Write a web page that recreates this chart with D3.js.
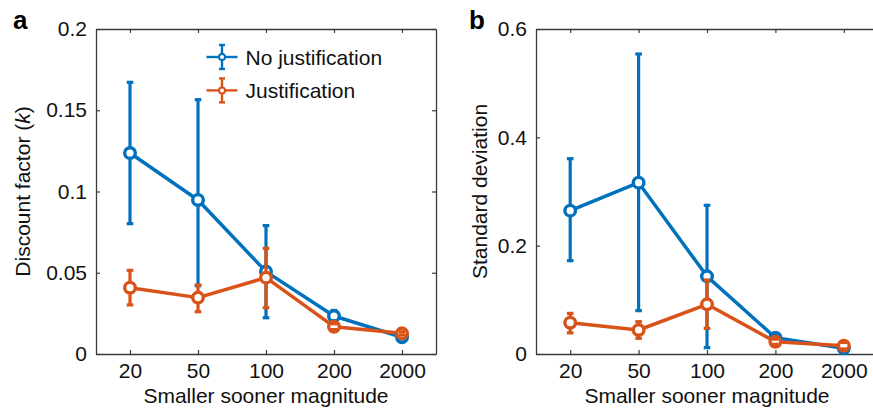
<!DOCTYPE html>
<meta charset="utf-8">
<script src="https://d3js.org/d3.v7.min.js"></script>
<style>
  body { margin: 0; background: #fff; }
  text { font-family: "Liberation Sans", Arial, Helvetica, sans-serif; }
</style>
<div id="chart"></div>
<script>

// x categories
const magnitudes = ["20", "50", "100", "200", "2000"]

// panel a: discount factor k
const kNoJust   = [0.1237, 0.0948, 0.0507, 0.0234, 0.0103]
const kNoJustLo = [0.0802, 0.0420, 0.0223, 0.0205, 0.0092]
const kNoJustHi = [0.1672, 0.1565, 0.0790, 0.0268, 0.0114]
const kJust     = [0.0408, 0.0347, 0.0470, 0.0168, 0.0127]
const kJustLo   = [0.0302, 0.0260, 0.0285, 0.0150, 0.0117]
const kJustHi   = [0.0515, 0.0425, 0.0650, 0.0186, 0.0137]

// panel b: standard deviation
const sdNoJust   = [0.2646, 0.3163, 0.1434, 0.0300, 0.0105]
const sdNoJustLo = [0.1723, 0.0800, 0.0117, 0.0250, 0.0070]
const sdNoJustHi = [0.3606, 0.5538, 0.2745, 0.0350, 0.0140]
const sdJust     = [0.0578, 0.0443, 0.0917, 0.0227, 0.0153]
const sdJustLo   = [0.0390, 0.0290, 0.0474, 0.0180, 0.0093]
const sdJustHi   = [0.0750, 0.0597, 0.1366, 0.0274, 0.0213]

const kTicks  = [0, 0.05, 0.1, 0.15, 0.2]
const sdTicks = [0, 0.2, 0.4, 0.6]

const seriesNames = ["No justification", "Justification"]
const colors = ["#0072BD", "#D95319"]

const W = 873, H = 411
const fontSize = 21
const axisColor = "#3a3a3a"

const svg = d3.select("#chart").append("svg")
    .attr("width", W)
    .attr("height", H)

function panel(opts) {
  const g = svg.append("g").attr("transform", "translate(" + opts.left + "," + opts.top + ")")
  const w = opts.width, h = opts.height

  const x = d3.scalePoint().domain(magnitudes).range([0, w]).padding(0.5)
  const y = d3.scaleLinear().domain(opts.yDomain).range([h, 0])

  // axes (ticks inward, box all round)
  const styleAxis = a => {
    a.selectAll("path.domain").attr("stroke", axisColor).attr("stroke-width", 1.3)
    a.selectAll(".tick line").attr("stroke", axisColor).attr("stroke-width", 1.2)
    a.selectAll("text").attr("fill", "#111").style("font-size", fontSize + "px")
  }
  g.append("g").attr("transform", "translate(0," + h + ")")
    .call(d3.axisBottom(x).tickSizeInner(-4).tickSizeOuter(0).tickPadding(9))
    .call(styleAxis)
  g.append("g")
    .call(d3.axisLeft(y).tickValues(opts.yTicks).tickFormat(d3.format("")).tickSizeInner(-4).tickSizeOuter(0).tickPadding(9))
    .call(styleAxis)
  g.append("g")
    .call(d3.axisTop(x).tickSizeInner(-4).tickSizeOuter(0).tickFormat(""))
    .call(styleAxis)
  g.append("g").attr("transform", "translate(" + w + ",0)")
    .call(d3.axisRight(y).tickValues(opts.yTicks).tickSizeInner(-4).tickSizeOuter(0).tickFormat(""))
    .call(styleAxis)

  opts.series.forEach((s, si) => {
    const c = colors[si]
    const pts = magnitudes.map((m, i) => ({m: m, v: s.mean[i], lo: s.lo[i], hi: s.hi[i]}))
    const sg = g.append("g")

    sg.append("path")
      .datum(pts)
      .attr("fill", "none")
      .attr("stroke", c)
      .attr("stroke-width", 3.5)
      .attr("stroke-linejoin", "round")
      .attr("d", d3.line().x(d => x(d.m)).y(d => y(d.v)))

    sg.selectAll("line.bar").data(pts).join("line")
      .attr("class", "bar")
      .attr("x1", d => x(d.m)).attr("x2", d => x(d.m))
      .attr("y1", d => y(d.lo)).attr("y2", d => y(d.hi))
      .attr("stroke", c).attr("stroke-width", 3.2)

    sg.selectAll("circle").data(pts).join("circle")
      .attr("cx", d => x(d.m)).attr("cy", d => y(d.v))
      .attr("r", 5.3)
      .attr("fill", "#fff")
      .attr("stroke", c).attr("stroke-width", 3.4)

    const caps = []
    pts.forEach(d => { caps.push({m: d.m, v: d.lo}); caps.push({m: d.m, v: d.hi}) })
    sg.selectAll("line.cap").data(caps).join("line")
      .attr("class", "cap")
      .attr("x1", d => x(d.m) - 3.3).attr("x2", d => x(d.m) + 3.3)
      .attr("y1", d => y(d.v)).attr("y2", d => y(d.v))
      .attr("stroke", c).attr("stroke-width", 3.2)
  })

  // x label
  g.append("text")
    .attr("x", w / 2 - (opts.xLabelShift || 0))
    .attr("y", h + 49)
    .attr("text-anchor", "middle")
    .style("font-size", fontSize + "px")
    .attr("fill", "#111")
    .text("Smaller sooner magnitude")

  // y label
  const yl = svg.append("text")
    .attr("transform", "translate(" + opts.yLabelX + "," + (opts.top + h / 2) + ") rotate(-90)")
    .attr("text-anchor", "middle")
    .style("font-size", fontSize + "px")
    .attr("fill", "#111")
  opts.yLabel.forEach(part => {
    yl.append("tspan").style("font-style", part.italic ? "italic" : "normal").text(part.t)
  })

  // panel letter
  svg.append("text")
    .attr("x", opts.letterX).attr("y", opts.letterY)
    .style("font-size", "26px").style("font-weight", "bold")
    .attr("fill", "#000")
    .text(opts.letter)

  return g
}

const ga = panel({
  left: 96, top: 29, width: 340, height: 325,
  yDomain: [0, 0.2], yTicks: kTicks,
  series: [
    {mean: kNoJust, lo: kNoJustLo, hi: kNoJustHi},
    {mean: kJust, lo: kJustLo, hi: kJustHi}
  ],
  yLabel: [{t: "Discount factor ("}, {t: "k", italic: true}, {t: ")"}],
  yLabelX: 30,
  letter: "a", letterX: 13, letterY: 28.5
})

panel({
  left: 536, top: 29, width: 342, height: 325,
  yDomain: [0, 0.6], yTicks: sdTicks,
  series: [
    {mean: sdNoJust, lo: sdNoJustLo, hi: sdNoJustHi},
    {mean: sdJust, lo: sdJustLo, hi: sdJustHi}
  ],
  yLabel: [{t: "Standard deviation"}],
  yLabelX: 487,
  letter: "b", letterX: 469, letterY: 29
})

// legend in panel a
const legend = ga.append("g").attr("transform", "translate(126,28)")
seriesNames.forEach((name, i) => {
  const row = legend.append("g").attr("transform", "translate(0," + (i * 33.4) + ")")
  const c = colors[i]
  row.append("line").attr("x1", -15.5).attr("x2", 15.5).attr("y1", 0).attr("y2", 0)
    .attr("stroke", c).attr("stroke-width", 2.4)
  row.append("line").attr("x1", 0).attr("x2", 0).attr("y1", -12).attr("y2", 12)
    .attr("stroke", c).attr("stroke-width", 2.4)
  row.append("line").attr("x1", -3).attr("x2", 3).attr("y1", -12).attr("y2", -12)
    .attr("stroke", c).attr("stroke-width", 2.4)
  row.append("line").attr("x1", -3).attr("x2", 3).attr("y1", 12).attr("y2", 12)
    .attr("stroke", c).attr("stroke-width", 2.4)
  row.append("circle").attr("r", 3).attr("fill", "#fff").attr("stroke", c).attr("stroke-width", 2)
  row.append("text").attr("x", 23.5).attr("y", 0).attr("dy", "0.36em")
    .style("font-size", fontSize + "px").attr("fill", "#111")
    .text(name)
})

</script>
